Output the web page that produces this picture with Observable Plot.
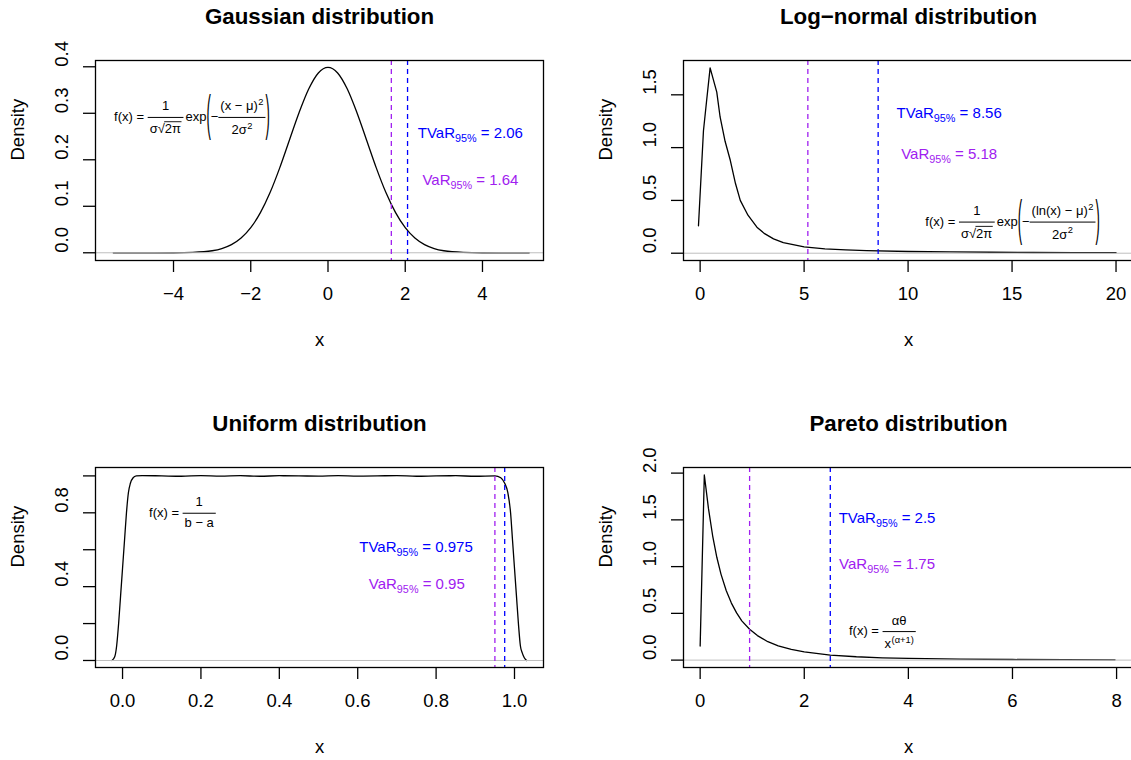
<!DOCTYPE html>
<html><head><meta charset="utf-8">
<script src="https://cdn.jsdelivr.net/npm/d3@7"></script>
<script src="https://cdn.jsdelivr.net/npm/@observablehq/plot@0.6"></script>
<style>
body{margin:0;background:#fff;}
#wrap{position:relative;width:1131px;height:760px;overflow:hidden;background:#fff;}
#wrap > div{position:absolute;width:588px;height:407px;}
#wrap svg{max-width:none !important;}
</style></head><body><div id="wrap"></div>
<script>
// ---------- data ----------
const titles = ["Gaussian distribution", "Log\u2212normal distribution", "Uniform distribution", "Pareto distribution"];

const gaussX = [-5.56,-4.5,-4,-3.5,-3,-2.75,-2.5,-2.25,-2,-1.75,-1.5,-1.25,-1,-0.75,-0.5,-0.25,0,0.25,0.5,0.75,1,1.25,1.5,1.75,2,2.25,2.5,2.75,3,3.5,4,4.5,5.21];
const gaussY = [0,0,0.0001,0.0009,0.0044,0.0091,0.0175,0.0317,0.054,0.0863,0.1295,0.1826,0.242,0.3011,0.3521,0.3867,0.3989,0.3867,0.3521,0.3011,0.242,0.1826,0.1295,0.0863,0.054,0.0317,0.0175,0.0091,0.0044,0.0009,0.0001,0,0];

const lognX = [-0.08,0.16,0.32,0.48,0.8,0.96,1.2,1.45,1.7,1.93,2.3,2.73,3.1,3.53,4,5,6,7,8,10,12,14,16,18,20];
const lognY = [0.26,1.16,1.46,1.755,1.525,1.29,1.06,0.88,0.66,0.5,0.36,0.246,0.185,0.136,0.1,0.06,0.042,0.031,0.024,0.016,0.012,0.009,0.007,0.006,0.005];

const unifX = [-0.027,-0.02,-0.015,-0.01,-0.005,0,0.005,0.01,0.015,0.02,0.027,0.035,0.05,0.1,0.15,0.2,0.25,0.3,0.35,0.4,0.45,0.5,0.55,0.6,0.65,0.7,0.75,0.8,0.85,0.9,0.95,0.965,0.975,0.983,0.99,0.995,1.0,1.005,1.01,1.015,1.02,1.025,1.031];
const unifY = [0,0.02,0.08,0.2,0.35,0.5,0.65,0.8,0.91,0.96,0.99,1.0,1.002,1.0,0.998,1.002,0.999,1.001,0.998,1.001,1.0,0.999,1.002,0.999,1.0,1.002,0.998,1.0,1.001,0.998,1.0,0.99,0.96,0.91,0.8,0.65,0.5,0.35,0.2,0.08,0.04,0.015,0];

const paretoX = [0,0.08,0.16,0.24,0.32,0.4,0.5,0.6,0.7,0.8,0.95,1.1,1.3,1.5,1.75,2,2.5,3,3.5,4,5,6,7,7.97];
const paretoY = [0.15,1.98,1.62,1.33,1.1,0.92,0.745,0.61,0.505,0.42,0.33,0.262,0.197,0.153,0.114,0.087,0.054,0.036,0.025,0.0185,0.0103,0.0065,0.0043,0.003];

const varLine  = [1.64, 5.18, 0.95, 0.95];
const tvarLine = [2.06, 8.56, 0.975, 2.5];
const varText  = ["1.64", "5.18", "0.95", "1.75"];
const tvarText = ["2.06", "8.56", "0.975", "2.5"];

const xTicks = [[-4,-2,0,2,4],[0,5,10,15,20],[0,0.2,0.4,0.6,0.8,1],[0,2,4,6,8]];
const xTickLabels = [["\u22124","\u22122","0","2","4"],["0","5","10","15","20"],["0.0","0.2","0.4","0.6","0.8","1.0"],["0","2","4","6","8"]];
const yTicks = [[0,0.1,0.2,0.3,0.4],[0,0.5,1,1.5],[0,0.2,0.4,0.6,0.8,1],[0,0.5,1,1.5,2]];
const yTickLabels = [["0.0","0.1","0.2","0.3","0.4"],["0.0","0.5","1.0","1.5"],["0.0","","0.4","","0.8",""],["0.0","0.5","1.0","1.5","2.0"]];

// annotation anchors (data coordinates, as in text(x, y, ...))
const tvarPos    = [[3.7,0.25],[12.0,1.30],[0.75,0.60],[3.6,1.49]];
const varPos     = [[3.7,0.15],[12.0,0.91],[0.752,0.40],[3.6,0.99]];
const formulaPos = [[-3.51,0.29],[15.05,0.29],[0.154,0.795],[3.51,0.285]];
const formulaKey = ["gauss","logn","unif","pareto"];

// ---------- scale settings ----------
const xDomains = [[-6.02,5.58],[-0.8,20.84],[-0.069,1.074],[-0.32,8.325]];
const yDomains = [[-0.0166,0.4135],[-0.069,1.825],[-0.038,1.0455],[-0.079,2.06]];
const curves = ["monotone-x","linear","monotone-x","linear"];
const curveX = [gaussX, lognX, unifX, paretoX];
const curveY = [gaussY, lognY, unifY, paretoY];

const FONT = "'Liberation Sans', Arial, Helvetica, sans-serif";
const C_TVAR = "#0000FF", C_VAR = "#A020F0";
const LBL = 15, FS = 13, TICK = 18.5, TITLE = 22.3;

// ---------- tiny math layout (for annotations) ----------
const NS = "http://www.w3.org/2000/svg";
let host, FILL = "black";
function mk(tag, attrs = {}) { const e = document.createElementNS(NS, tag); for (const k in attrs) e.setAttribute(k, attrs[k]); return e; }
function T(s, size = FS) {
  const t = mk("text", {"font-size": size, "text-anchor": "start", fill: FILL, "font-family": FONT, stroke: "none"});
  t.textContent = s;
  host.appendChild(t);
  const w = t.getComputedTextLength();
  host.removeChild(t);
  const g = mk("g"); g.appendChild(t);
  return {g, w, a: size * 0.74, d: size * 0.21};
}
function at(b, x, y) { const g = mk("g", {transform: `translate(${x},${y})`}); g.appendChild(b.g); return g; }
function H(...bs) { const g = mk("g"); let x = 0, a = 0, d = 0; for (const b of bs) { g.appendChild(at(b, x, 0)); x += b.w; a = Math.max(a, b.a); d = Math.max(d, b.d); } return {g, w: x, a, d}; }
function Sp(w) { return {g: mk("g"), w, a: 0, d: 0}; }
function Frac(n, den, size = FS) {
  const w = Math.max(n.w, den.w) + size * 0.3, ax = size * 0.3, gap = size * 0.33, g = mk("g");
  g.appendChild(at(n, (w - n.w) / 2, -ax - gap - n.d));
  g.appendChild(mk("line", {x1: 0, x2: w, y1: -ax, y2: -ax, stroke: FILL, "stroke-width": 1}));
  g.appendChild(at(den, (w - den.w) / 2, -ax + gap + den.a));
  return {g, w, a: ax + gap + n.d + n.a, d: -ax + gap + den.a + den.d};
}
function Sup(b, s, size = FS) { const g = mk("g"), r = size * 0.42; g.appendChild(at(b, 0, 0)); g.appendChild(at(s, b.w + 0.5, -r)); return {g, w: b.w + s.w + 0.5, a: Math.max(b.a, r + s.a), d: b.d}; }
function Sub(b, s, size = LBL) { const g = mk("g"), r = size * 0.27; g.appendChild(at(b, 0, 0)); g.appendChild(at(s, b.w, r)); return {g, w: b.w + s.w, a: b.a, d: Math.max(b.d, r + s.d)}; }
function Sqrt(inner, size = FS) {
  const r = T("\u221A", size), g = mk("g");
  g.appendChild(at(r, 0, 0)); g.appendChild(at(inner, r.w, 0));
  const top = -size * 0.9;
  g.appendChild(mk("line", {x1: r.w - 0.6, x2: r.w + inner.w + 0.5, y1: top, y2: top, stroke: FILL, "stroke-width": 0.9}));
  return {g, w: r.w + inner.w + 0.5, a: -top, d: inner.d};
}
function Paren(inner, size = FS) {
  const pad = size * 0.3, h = inner.a + inner.d + 2 * pad, c = (inner.d - inner.a) / 2, sy = h / (0.938 * size);
  const mkP = (ch) => { const t = T(ch, size); const g = mk("g", {transform: `translate(0,${c}) scale(1,${sy}) translate(0,${0.259 * size})`}); g.appendChild(t.g); return {g, w: t.w, a: -c + h / 2, d: c + h / 2}; };
  return H(mkP("("), inner, mkP(")"));
}
const builders = {
  gauss: () => { FILL = "black"; const s = FS * 0.72; return H(T("f(x) = "), Frac(T("1"), H(T("\u03C3"), Sqrt(T("2\u03C0")))), Sp(2), T("exp"), Paren(H(T("\u2212"), Frac(Sup(T("(x \u2212 \u03BC)"), T("2", s)), Sup(T("2\u03C3"), T("2", s)))))); },
  logn: () => { FILL = "black"; const s = FS * 0.72; return H(T("f(x) = "), Frac(T("1"), H(T("\u03C3"), Sqrt(T("2\u03C0")))), Sp(2), T("exp"), Paren(H(T("\u2212"), Frac(Sup(T("(ln(x) \u2212 \u03BC)"), T("2", s)), Sup(T("2\u03C3"), T("2", s)))))); },
  unif: () => { FILL = "black"; return H(T("f(x) = "), Frac(T("1"), T("b \u2212 a"))); },
  pareto: () => { FILL = "black"; return H(T("f(x) = "), Frac(T("\u03B1\u03B8"), Sup(T("x"), T("(\u03B1+1)", FS * 0.72)))); }
};
for (let i = 0; i < 4; i++) {
  builders["tvar" + i] = () => { FILL = C_TVAR; return H(Sub(T("TVaR", LBL), T("95%", LBL * 0.72)), T(" = " + tvarText[i], LBL)); };
  builders["var" + i] = () => { FILL = C_VAR; return H(Sub(T("VaR", LBL), T("95%", LBL * 0.72)), T(" = " + varText[i], LBL)); };
}

// ---------- panels ----------
const wrap = document.getElementById("wrap");
for (let i = 0; i < 4; i++) {
  const data = curveX[i].map((x, j) => ({x, y: curveY[i][j]}));
  const annots = [
    {key: "tvar" + i, x: tvarPos[i][0], y: tvarPos[i][1]},
    {key: "var" + i, x: varPos[i][0], y: varPos[i][1]},
    {key: formulaKey[i], x: formulaPos[i][0], y: formulaPos[i][1]}
  ];
  const plot = Plot.plot({
    width: 588, height: 407,
    marginLeft: 95, marginRight: i % 2 ? 43 : 45, marginTop: 60, marginBottom: 147,
    style: {fontFamily: FONT, fontSize: TICK + "px", background: "transparent", color: "black", overflow: "visible", maxWidth: "none"},
    x: {domain: xDomains[i]},
    y: {domain: yDomains[i]},
    marks: [
      Plot.line(data, {x: "x", y: "y", stroke: "black", strokeWidth: 1.3, curve: curves[i]}),
      Plot.ruleY([0], {stroke: "#bebebe", strokeWidth: 1}),
      Plot.ruleX([varLine[i]], {stroke: C_VAR, strokeDasharray: "5,4", strokeWidth: 1.3}),
      Plot.ruleX([tvarLine[i]], {stroke: C_TVAR, strokeDasharray: "5,4", strokeWidth: 1.3}),
      Plot.frame({stroke: "black", strokeWidth: 1.3}),
      Plot.axisX({ticks: xTicks[i], tickFormat: d => xTickLabels[i][xTicks[i].indexOf(d)], tickSize: 12, tickPadding: 14, fontSize: TICK, label: null, strokeWidth: 1.3}),
      Plot.axisY({ticks: yTicks[i], tickFormat: () => "", tickSize: 12, label: null, strokeWidth: 1.3}),
      Plot.text(yTicks[i], {y: d => d, text: (d, j) => yTickLabels[i][j], frameAnchor: "left", dx: -33, rotate: -90, fontSize: TICK}),
      Plot.text([titles[i]], {text: d => d, frameAnchor: "top", dy: -44, lineAnchor: "middle", fontSize: TITLE, fontWeight: "bold"}),
      Plot.text(["x"], {text: d => d, frameAnchor: "bottom", dy: 85, fontSize: TICK}),
      Plot.text(["Density"], {text: d => d, frameAnchor: "left", dx: -77, rotate: -90, fontSize: TICK})
    ]
  });
  const div = document.createElement("div");
  div.style.left = (i % 2) * 588 + "px";
  div.style.top = Math.floor(i / 2) * 407 + "px";
  div.appendChild(plot);
  wrap.appendChild(div);
  // annotations (text(x, y, expression) in R) placed through Plot's own scales
  host = plot;
  const sx = plot.scale("x"), sy = plot.scale("y");
  for (const a of annots) {
    const box = builders[a.key]();
    const g = mk("g", {transform: `translate(${sx.apply(a.x)},${sy.apply(a.y)})`});
    g.appendChild(at(box, -box.w / 2, (box.a - box.d) / 2));
    plot.appendChild(g);
  }
}
</script></body></html>
